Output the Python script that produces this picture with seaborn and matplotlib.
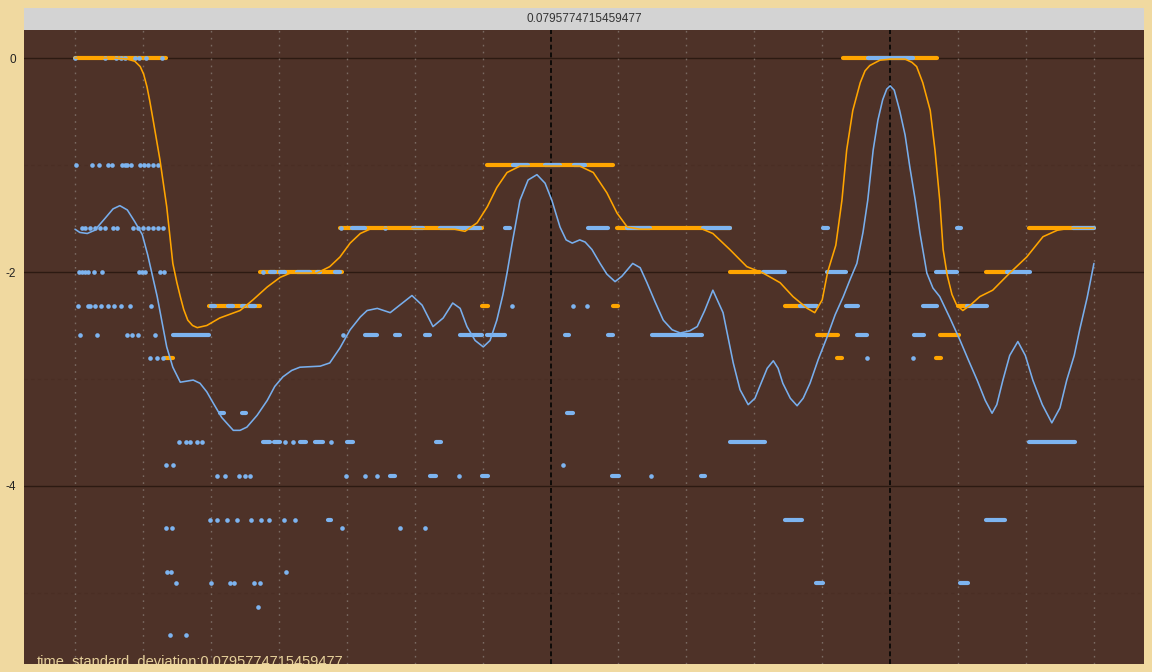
import numpy as np
import pandas as pd
import seaborn as sns
import matplotlib.pyplot as plt

# ---- data ----
title_value = "0.0795774715459477"
footer_text = "time_standard_deviation:0.0795774715459477"
y_ticks = [0, -2, -4]
y_tick_labels = ["0", "-2", "-4"]
minor_levels = [-1, -3, -5]
grid_x = list(range(16))
marker_x = [7, 12]

# target notes (orange horizontal runs), grouped by level
orange_seg_levels = [0, -1, -1.585, -2, -2.322, -2.585, -2.807]
orange_seg_spans = [
    [(0.00, 1.34), (11.31, 12.69)],
    [(6.07, 7.92)],
    [(3.90, 5.99), (7.98, 9.64), (14.04, 15.00)],
    [(2.72, 3.93), (9.64, 10.08), (13.41, 13.72)],
    [(1.97, 2.72), (5.99, 6.08), (7.92, 7.99), (10.45, 10.92), (13.00, 13.13)],
    [(10.92, 11.23), (12.73, 13.01)],
    [(1.32, 1.44), (11.22, 11.29), (12.67, 12.75)],
]

# detected notes (blue runs)
blue_seg_levels = [0, -1, -1.585, -2, -2.322, -2.585, -3.322, -3.585, -3.907, -4.322, -4.907]
blue_seg_spans = [
    [(11.67, 12.34)],
    [(6.45, 6.67), (6.92, 7.14), (7.35, 7.51)],
    [(4.08, 4.27), (4.98, 5.12), (5.37, 5.96), (6.33, 6.40), (7.55, 7.85), (8.13, 8.46),
     (9.24, 9.64), (11.01, 11.08), (12.98, 13.04), (14.69, 15.00)],
    [(2.87, 2.94), (3.02, 3.09), (3.27, 3.46), (3.56, 3.61), (3.83, 3.90), (10.13, 10.45),
     (11.07, 11.35), (12.67, 12.98), (13.72, 14.06)],
    [(2.00, 2.06), (2.25, 2.33), (2.46, 2.50), (2.58, 2.65), (10.67, 10.92), (11.35, 11.53),
     (12.48, 12.69), (13.13, 13.43)],
    [(1.44, 1.97), (4.27, 4.45), (4.71, 4.78), (5.15, 5.23), (5.67, 5.99), (6.07, 6.33),
     (7.21, 7.27), (7.85, 7.92), (8.49, 9.23), (11.51, 11.66), (12.35, 12.50)],
    [(2.13, 2.19), (2.46, 2.52), (7.24, 7.33)],
    [(2.77, 2.87), (2.93, 3.02), (3.31, 3.40), (3.53, 3.65), (4.00, 4.09), (5.31, 5.39),
     (9.64, 10.16), (14.04, 14.72)],
    [(4.64, 4.71), (5.23, 5.31), (5.99, 6.08), (7.91, 8.01), (9.22, 9.27)],
    [(3.72, 3.77), (10.45, 10.70), (13.41, 13.69)],
    [(10.91, 11.01), (13.03, 13.15)],
]

# single blue dots
blue_dot_levels = [0, -1, -1.585, -2, -2.322, -2.585, -2.807, -3.585, -3.807, -3.907,
                   -4.322, -4.392, -4.807, -4.907, -5.129, -5.392]
blue_dot_xs = [
    [0.00, 0.44, 0.60, 0.68, 0.74, 0.88, 0.94, 1.05, 1.28],
    [0.01, 0.25, 0.35, 0.49, 0.54, 0.69, 0.74, 0.77, 0.82, 0.96, 1.02, 1.07, 1.15, 1.22],
    [0.10, 0.15, 0.22, 0.29, 0.37, 0.44, 0.56, 0.62, 0.85, 0.93, 1.00, 1.07, 1.15, 1.22,
     1.30, 3.92, 4.56],
    [0.06, 0.10, 0.15, 0.19, 0.28, 0.40, 0.94, 0.99, 1.03, 1.25, 1.31, 2.77],
    [0.04, 0.19, 0.22, 0.29, 0.38, 0.49, 0.57, 0.68, 0.81, 1.12, 6.43, 7.33, 7.54],
    [0.07, 0.32, 0.77, 0.84, 0.93, 1.18, 3.95],
    [1.10, 1.21, 1.30, 11.66, 12.34],
    [1.53, 1.63, 1.69, 1.80, 1.87, 3.09, 3.21, 3.77],
    [1.34, 1.44, 7.18],
    [2.09, 2.21, 2.41, 2.50, 2.58, 3.99, 4.27, 4.45, 5.65, 8.48],
    [1.99, 2.09, 2.24, 2.38, 2.59, 2.74, 2.86, 3.08, 3.24],
    [1.34, 1.43, 3.93, 4.78, 5.15],
    [1.35, 1.41, 3.11],
    [1.49, 2.00, 2.28, 2.34, 2.64, 2.72],
    [2.69],
    [1.40, 1.63],
]

# smoothed curves
orange_curve_x = [0.00, 0.59, 0.77, 0.88, 0.96, 1.01, 1.06, 1.10, 1.15, 1.25, 1.35, 1.44, 1.50,
                  1.55, 1.60, 1.66, 1.73, 1.80, 1.94,
                  2.13, 2.43, 2.62, 2.83, 3.02, 3.17, 3.56, 3.75, 3.90, 4.05, 4.20, 4.34, 4.49,
                  5.59, 5.74, 5.92, 6.07, 6.21, 6.36, 6.55, 7.43, 7.63, 7.83, 7.98, 8.13, 8.32,
                  9.24, 9.39, 9.64, 9.89, 10.13, 10.38, 10.57, 10.78, 10.89, 11.00, 11.08, 11.20,
                  11.29, 11.36, 11.45, 11.56, 11.63, 11.70, 11.85, 12.00, 12.22, 12.32, 12.39,
                  12.48, 12.59, 12.66, 12.73, 12.78, 12.84, 12.91, 12.98, 13.07, 13.18, 13.32,
                  13.51, 13.76, 14.01, 14.25, 14.46, 14.65, 15.00]
orange_curve_y = [0.00, 0.00, -0.01, -0.03, -0.08, -0.15, -0.27, -0.40, -0.58, -0.95, -1.39,
                  -1.92, -2.10, -2.23, -2.35, -2.45, -2.50, -2.52, -2.50,
                  -2.43, -2.36, -2.26, -2.14, -2.05, -2.01, -2.01, -1.95, -1.86,
                  -1.73, -1.64, -1.60, -1.59, -1.60, -1.62, -1.54, -1.39, -1.21, -1.07, -1.01,
                  -1.01, -1.07, -1.26, -1.45, -1.58, -1.60, -1.60, -1.64, -1.79, -1.95, -2.01,
                  -2.10, -2.23, -2.34, -2.38, -2.26, -2.00, -1.75, -1.33, -0.86, -0.49, -0.23,
                  -0.12, -0.07, -0.02, -0.01, -0.01, -0.04, -0.08, -0.23, -0.49, -0.86, -1.33,
                  -1.79, -2.03, -2.21, -2.31, -2.36, -2.31, -2.23, -2.17, -2.01, -1.86, -1.67,
                  -1.61, -1.59, -1.59]

blue_curve_x = [0.00, 0.07, 0.18, 0.29, 0.44, 0.56, 0.66, 0.77, 0.88, 0.99, 1.07, 1.21, 1.35,
                1.44, 1.55, 1.65, 1.74, 1.84, 1.94, 2.03, 2.16, 2.33, 2.43, 2.53, 2.68, 2.83,
                2.94, 3.06, 3.19, 3.31, 3.61, 3.75, 3.90, 4.05, 4.20, 4.30, 4.45, 4.64, 4.78,
                4.96, 5.11, 5.27, 5.42, 5.56, 5.67, 5.77, 5.89, 6.01, 6.11, 6.21, 6.30, 6.36,
                6.43, 6.55, 6.67, 6.80, 6.92, 7.02, 7.14, 7.23, 7.32, 7.43, 7.51, 7.61, 7.73,
                7.83, 7.95, 8.05, 8.21, 8.32, 8.42, 8.54, 8.66, 8.79, 8.91, 9.05, 9.16, 9.27,
                9.39, 9.54, 9.69, 9.79, 9.91, 10.01, 10.08, 10.19, 10.28, 10.35, 10.42, 10.53,
                10.63, 10.72, 10.82, 10.94, 11.07, 11.19, 11.31, 11.41, 11.51, 11.60, 11.67,
                11.75, 11.82, 11.89, 11.95, 12.00, 12.06, 12.14, 12.22, 12.29, 12.37, 12.44,
                12.54, 12.63, 12.73, 12.88, 13.03, 13.15, 13.28, 13.40, 13.50, 13.57, 13.66,
                13.76, 13.88, 13.99, 14.10, 14.24, 14.38, 14.50, 14.60, 14.71, 14.79, 14.90,
                15.00]
blue_curve_y = [-1.60, -1.63, -1.64, -1.61, -1.50, -1.41, -1.38, -1.42, -1.53, -1.65, -1.84,
                -2.23, -2.70, -2.89, -3.03, -3.02, -3.01, -3.04, -3.12, -3.22, -3.36, -3.48,
                -3.48, -3.45, -3.34, -3.20, -3.07, -2.98, -2.92, -2.89, -2.88, -2.85, -2.71,
                -2.54, -2.42, -2.36, -2.34, -2.38, -2.31, -2.22, -2.31, -2.51, -2.43, -2.29,
                -2.34, -2.51, -2.64, -2.70, -2.64, -2.45, -2.21, -2.01, -1.75, -1.33, -1.14,
                -1.09, -1.17, -1.33, -1.58, -1.70, -1.73, -1.70, -1.72, -1.79, -1.92, -2.02,
                -2.09, -2.04, -1.92, -1.96, -2.10, -2.28, -2.45, -2.54, -2.57, -2.55, -2.51,
                -2.36, -2.17, -2.38, -2.85, -3.10, -3.24, -3.18, -3.07, -2.90, -2.83, -2.90,
                -3.04, -3.18, -3.25, -3.18, -3.04, -2.82, -2.61, -2.40, -2.23, -2.07, -1.92,
                -1.63, -1.33, -0.86, -0.58, -0.39, -0.29, -0.26, -0.30, -0.49, -0.72, -1.02,
                -1.33, -1.64, -2.01, -2.15, -2.23, -2.43, -2.64, -2.82, -3.01, -3.20, -3.32,
                -3.24, -3.01, -2.78, -2.65, -2.78, -3.01, -3.24, -3.41, -3.27, -3.01, -2.78,
                -2.54, -2.24, -1.92]

# ---- tidy frames ----
def spans_frame(levels, spans):
    rows = [(a, b, lv) for lv, sp in zip(levels, spans) for a, b in sp]
    return pd.DataFrame(rows, columns=["start", "end", "level"])

orange_segs = spans_frame(orange_seg_levels, orange_seg_spans)
blue_segs = spans_frame(blue_seg_levels, blue_seg_spans)
blue_dots = pd.DataFrame([(x, lv) for lv, xs in zip(blue_dot_levels, blue_dot_xs) for x in xs],
                         columns=["x", "level"])

# ---- colours ----
bg_page = "#F0D9A0"
bg_panel = "#4E3228"
blue = "#7DB4F0"
blue_line = "#78AEEC"
orange = "#FFA500"

sns.set_style("white")
plt.rcParams["font.family"] = ["Liberation Sans", "DejaVu Sans"]

W, H = 1152, 672
fig = plt.figure(figsize=(W / 100, H / 100), dpi=100, facecolor=bg_page)
ax = fig.add_axes([24 / W, 8 / H, 1120 / W, 634 / H])
ax.set_facecolor(bg_panel)
ax.set_xlim(-0.751, 15.737)
ax.set_ylim(-5.664, 0.262)

# grid
for lv in y_ticks:
    ax.axhline(lv, color="#2C1A12", linewidth=1.0, zorder=1)
for lv in minor_levels:
    ax.axhline(lv, color="#4A2E24", linewidth=0.8, linestyle=(0, (3, 3)), zorder=1)
for gx in grid_x:
    if gx in marker_x:
        continue
    ax.axvline(gx, color="#7A6A62", linewidth=1.0, linestyle=(0, (1.2, 3.8)), zorder=1)
for gx in marker_x:
    ax.axvline(gx, color="#0E0A08", linewidth=1.4, linestyle=(0, (2.5, 1.5)), zorder=1)

# note runs
ax.hlines(orange_segs["level"], orange_segs["start"], orange_segs["end"], colors=orange,
          linewidth=3.0, capstyle="round", zorder=2)
ax.hlines(blue_segs["level"], blue_segs["start"], blue_segs["end"], colors=blue,
          linewidth=3.0, capstyle="round", zorder=3)
sns.scatterplot(data=blue_dots, x="x", y="level", color=blue, s=11, linewidth=0,
                ax=ax, zorder=3)

# smoothed curves
sns.lineplot(x=orange_curve_x, y=orange_curve_y, color=orange, linewidth=1.15, sort=False,
             estimator=None, ax=ax, zorder=4, solid_joinstyle="round")
sns.lineplot(x=blue_curve_x, y=blue_curve_y, color=blue_line, linewidth=1.15, sort=False,
             estimator=None, ax=ax, zorder=4, solid_joinstyle="round")

ax.set_xticks([])
ax.set_yticks(y_ticks)
ax.set_yticklabels(y_tick_labels, fontsize=8.5, color="#222222")
ax.tick_params(axis="y", length=0, pad=6)
ax.set_xlabel("")
ax.set_ylabel("")
for s in ax.spines.values():
    s.set_visible(False)

ax.text(13 / 1120, -1.5 / 634, footer_text, transform=ax.transAxes, fontsize=10.5,
        color="#E6D09A", ha="left", va="baseline", clip_on=True, zorder=5)

# facet strip on top
strip = fig.add_axes([24 / W, (H - 30) / H, 1120 / W, 22 / H])
strip.set_facecolor("#D3D3D3")
strip.set_xticks([])
strip.set_yticks([])
for s in strip.spines.values():
    s.set_visible(False)
strip.text(0.5, 0.5, title_value, ha="center", va="center", fontsize=8.5, color="#333333",
           transform=strip.transAxes)

fig.savefig("out.png", dpi=100, facecolor=bg_page)
